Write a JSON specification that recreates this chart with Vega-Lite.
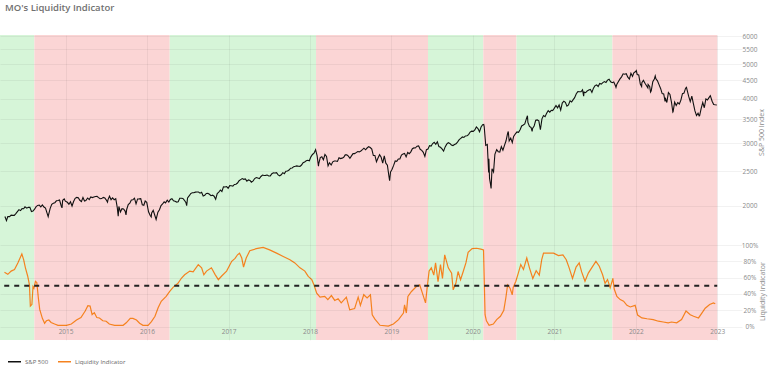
{
"$schema": "https://vega.github.io/schema/vega-lite/v6.json",
"width": 742, "height": 305,
"autosize": {"type": "none"},
"padding": {"left": 0, "top": 35, "right": 26, "bottom": 31},
"background": "white",
"config": {"view": {"stroke": null}, "font": "Open Sans"},
"title": {"text": "MO's Liquidity Indicator", "anchor": "start", "frame": "group", "dx": 5, "offset": 13, "fontSize": 9.5, "fontWeight": 600, "color": "#707070", "font": "Open Sans", "baseline": "alphabetic"},
"datasets": {
"bands": [
{"start":"2014-03-13","end":"2014-08-14","regime":"up"},
{"start":"2014-08-14","end":"2016-04-12","regime":"down"},
{"start":"2016-04-12","end":"2018-01-28","regime":"up"},
{"start":"2018-01-28","end":"2019-06-14","regime":"down"},
{"start":"2019-06-14","end":"2020-02-17","regime":"up"},
{"start":"2020-02-17","end":"2020-07-15","regime":"down"},
{"start":"2020-07-15","end":"2021-09-18","regime":"up"},
{"start":"2021-09-18","end":"2023-01-01","regime":"down"}
],
"ref": [{"start":"2014-04-01","end":"2023-01-01","level":0.5}],
"sp": [
{"date":"2014-04-04","value":1865},{"date":"2014-04-11","value":1815},{"date":"2014-04-17","value":1864},{"date":"2014-04-25","value":1863},{"date":"2014-05-02","value":1881},{"date":"2014-05-09","value":1878},{"date":"2014-05-16","value":1878},{"date":"2014-05-23","value":1900},{"date":"2014-05-30","value":1924},{"date":"2014-06-06","value":1949},{"date":"2014-06-13","value":1937},{"date":"2014-06-20","value":1963},{"date":"2014-06-27","value":1961},{"date":"2014-07-03","value":1985},{"date":"2014-07-11","value":1968},{"date":"2014-07-18","value":1978},{"date":"2014-07-25","value":1978},{"date":"2014-08-01","value":1925},{"date":"2014-08-08","value":1931},{"date":"2014-08-15","value":1955},{"date":"2014-08-22","value":1988},{"date":"2014-08-29","value":2003},{"date":"2014-09-05","value":2008},{"date":"2014-09-12","value":1985},{"date":"2014-09-19","value":2010},{"date":"2014-09-26","value":1982},{"date":"2014-10-03","value":1968},{"date":"2014-10-10","value":1906},{"date":"2014-10-15","value":1862},{"date":"2014-10-17","value":1887},{"date":"2014-10-24","value":1965},{"date":"2014-10-31","value":2018},{"date":"2014-11-07","value":2032},{"date":"2014-11-14","value":2039},{"date":"2014-11-21","value":2064},{"date":"2014-11-28","value":2068},{"date":"2014-12-05","value":2075},{"date":"2014-12-12","value":2002},{"date":"2014-12-16","value":1972},{"date":"2014-12-19","value":2071},{"date":"2014-12-26","value":2089},{"date":"2014-12-31","value":2059},
{"date":"2015-01-09","value":2044},{"date":"2015-01-16","value":2019},{"date":"2015-01-23","value":2051},{"date":"2015-01-30","value":1995},{"date":"2015-02-06","value":2055},{"date":"2015-02-13","value":2097},{"date":"2015-02-20","value":2110},{"date":"2015-02-27","value":2105},{"date":"2015-03-06","value":2071},{"date":"2015-03-13","value":2053},{"date":"2015-03-20","value":2108},{"date":"2015-03-27","value":2061},{"date":"2015-04-02","value":2067},{"date":"2015-04-10","value":2102},{"date":"2015-04-17","value":2081},{"date":"2015-04-24","value":2117},{"date":"2015-05-01","value":2108},{"date":"2015-05-08","value":2116},{"date":"2015-05-15","value":2123},{"date":"2015-05-22","value":2126},{"date":"2015-05-29","value":2107},{"date":"2015-06-05","value":2092},{"date":"2015-06-12","value":2094},{"date":"2015-06-19","value":2110},{"date":"2015-06-26","value":2102},{"date":"2015-07-02","value":2077},{"date":"2015-07-08","value":2046},{"date":"2015-07-10","value":2077},{"date":"2015-07-17","value":2127},{"date":"2015-07-24","value":2079},{"date":"2015-07-31","value":2104},{"date":"2015-08-07","value":2078},{"date":"2015-08-14","value":2092},{"date":"2015-08-21","value":1971},{"date":"2015-08-25","value":1868},{"date":"2015-08-28","value":1989},{"date":"2015-09-04","value":1921},{"date":"2015-09-11","value":1961},{"date":"2015-09-18","value":1958},{"date":"2015-09-25","value":1931},{"date":"2015-09-29","value":1884},{"date":"2015-10-02","value":1951},{"date":"2015-10-09","value":2015},{"date":"2015-10-16","value":2033},{"date":"2015-10-23","value":2075},{"date":"2015-10-30","value":2079},{"date":"2015-11-06","value":2099},{"date":"2015-11-13","value":2023},{"date":"2015-11-20","value":2089},{"date":"2015-11-27","value":2090},{"date":"2015-12-04","value":2092},{"date":"2015-12-11","value":2012},{"date":"2015-12-18","value":2006},{"date":"2015-12-24","value":2061},{"date":"2015-12-31","value":2044},
{"date":"2016-01-08","value":1922},{"date":"2016-01-15","value":1880},{"date":"2016-01-20","value":1859},{"date":"2016-01-22","value":1907},{"date":"2016-01-29","value":1940},{"date":"2016-02-05","value":1880},{"date":"2016-02-11","value":1829},{"date":"2016-02-19","value":1918},{"date":"2016-02-26","value":1948},{"date":"2016-03-04","value":2000},{"date":"2016-03-11","value":2022},{"date":"2016-03-18","value":2050},{"date":"2016-03-24","value":2036},{"date":"2016-04-01","value":2073},{"date":"2016-04-08","value":2048},{"date":"2016-04-15","value":2081},{"date":"2016-04-22","value":2092},{"date":"2016-04-29","value":2065},{"date":"2016-05-06","value":2057},{"date":"2016-05-13","value":2047},{"date":"2016-05-20","value":2052},{"date":"2016-05-27","value":2099},{"date":"2016-06-03","value":2099},{"date":"2016-06-10","value":2096},{"date":"2016-06-17","value":2071},{"date":"2016-06-24","value":2037},{"date":"2016-06-27","value":2001},{"date":"2016-07-01","value":2103},{"date":"2016-07-08","value":2130},{"date":"2016-07-15","value":2162},{"date":"2016-07-22","value":2175},{"date":"2016-07-29","value":2174},{"date":"2016-08-05","value":2183},{"date":"2016-08-12","value":2184},{"date":"2016-08-19","value":2184},{"date":"2016-08-26","value":2169},{"date":"2016-09-02","value":2180},{"date":"2016-09-09","value":2128},{"date":"2016-09-16","value":2139},{"date":"2016-09-23","value":2165},{"date":"2016-09-30","value":2168},{"date":"2016-10-07","value":2153},{"date":"2016-10-14","value":2133},{"date":"2016-10-21","value":2141},{"date":"2016-10-28","value":2126},{"date":"2016-11-04","value":2085},{"date":"2016-11-11","value":2164},{"date":"2016-11-18","value":2182},{"date":"2016-11-25","value":2213},{"date":"2016-12-02","value":2192},{"date":"2016-12-09","value":2260},{"date":"2016-12-16","value":2258},{"date":"2016-12-23","value":2264},{"date":"2016-12-30","value":2239},
{"date":"2017-01-06","value":2277},{"date":"2017-01-13","value":2275},{"date":"2017-01-20","value":2271},{"date":"2017-01-27","value":2295},{"date":"2017-02-03","value":2297},{"date":"2017-02-10","value":2316},{"date":"2017-02-17","value":2351},{"date":"2017-02-24","value":2367},{"date":"2017-03-03","value":2383},{"date":"2017-03-10","value":2372},{"date":"2017-03-17","value":2378},{"date":"2017-03-24","value":2344},{"date":"2017-03-31","value":2363},{"date":"2017-04-07","value":2355},{"date":"2017-04-13","value":2329},{"date":"2017-04-21","value":2349},{"date":"2017-04-28","value":2384},{"date":"2017-05-05","value":2399},{"date":"2017-05-12","value":2391},{"date":"2017-05-19","value":2382},{"date":"2017-05-26","value":2416},{"date":"2017-06-02","value":2439},{"date":"2017-06-09","value":2432},{"date":"2017-06-16","value":2433},{"date":"2017-06-23","value":2438},{"date":"2017-06-30","value":2423},{"date":"2017-07-07","value":2425},{"date":"2017-07-14","value":2459},{"date":"2017-07-21","value":2473},{"date":"2017-07-28","value":2472},{"date":"2017-08-04","value":2477},{"date":"2017-08-11","value":2441},{"date":"2017-08-18","value":2426},{"date":"2017-08-25","value":2443},{"date":"2017-09-01","value":2477},{"date":"2017-09-08","value":2461},{"date":"2017-09-15","value":2500},{"date":"2017-09-22","value":2502},{"date":"2017-09-29","value":2519},{"date":"2017-10-06","value":2549},{"date":"2017-10-13","value":2553},{"date":"2017-10-20","value":2575},{"date":"2017-10-27","value":2581},{"date":"2017-11-03","value":2588},{"date":"2017-11-10","value":2582},{"date":"2017-11-17","value":2579},{"date":"2017-11-24","value":2602},{"date":"2017-12-01","value":2642},{"date":"2017-12-08","value":2652},{"date":"2017-12-15","value":2675},{"date":"2017-12-22","value":2683},{"date":"2017-12-29","value":2674},
{"date":"2018-01-05","value":2743},{"date":"2018-01-12","value":2786},{"date":"2018-01-19","value":2810},{"date":"2018-01-26","value":2873},{"date":"2018-02-02","value":2762},{"date":"2018-02-08","value":2581},{"date":"2018-02-09","value":2620},{"date":"2018-02-16","value":2732},{"date":"2018-02-23","value":2747},{"date":"2018-03-02","value":2691},{"date":"2018-03-09","value":2786},{"date":"2018-03-16","value":2752},{"date":"2018-03-23","value":2588},{"date":"2018-03-29","value":2641},{"date":"2018-04-06","value":2604},{"date":"2018-04-13","value":2656},{"date":"2018-04-20","value":2670},{"date":"2018-04-27","value":2670},{"date":"2018-05-04","value":2663},{"date":"2018-05-11","value":2728},{"date":"2018-05-18","value":2713},{"date":"2018-05-25","value":2721},{"date":"2018-06-01","value":2735},{"date":"2018-06-08","value":2779},{"date":"2018-06-15","value":2780},{"date":"2018-06-22","value":2755},{"date":"2018-06-29","value":2718},{"date":"2018-07-06","value":2760},{"date":"2018-07-13","value":2801},{"date":"2018-07-20","value":2802},{"date":"2018-07-27","value":2819},{"date":"2018-08-03","value":2840},{"date":"2018-08-10","value":2833},{"date":"2018-08-17","value":2850},{"date":"2018-08-24","value":2875},{"date":"2018-08-31","value":2902},{"date":"2018-09-07","value":2872},{"date":"2018-09-14","value":2905},{"date":"2018-09-21","value":2930},{"date":"2018-09-28","value":2914},{"date":"2018-10-05","value":2886},{"date":"2018-10-12","value":2767},{"date":"2018-10-19","value":2768},{"date":"2018-10-26","value":2659},{"date":"2018-11-02","value":2723},{"date":"2018-11-09","value":2781},{"date":"2018-11-16","value":2736},{"date":"2018-11-23","value":2633},{"date":"2018-11-30","value":2760},{"date":"2018-12-07","value":2633},{"date":"2018-12-14","value":2600},{"date":"2018-12-21","value":2417},{"date":"2018-12-24","value":2351},{"date":"2018-12-28","value":2486},
{"date":"2019-01-04","value":2532},{"date":"2019-01-11","value":2596},{"date":"2019-01-18","value":2671},{"date":"2019-01-25","value":2665},{"date":"2019-02-01","value":2707},{"date":"2019-02-08","value":2708},{"date":"2019-02-15","value":2776},{"date":"2019-02-22","value":2793},{"date":"2019-03-01","value":2804},{"date":"2019-03-08","value":2743},{"date":"2019-03-15","value":2822},{"date":"2019-03-22","value":2800},{"date":"2019-03-29","value":2834},{"date":"2019-04-05","value":2893},{"date":"2019-04-12","value":2907},{"date":"2019-04-18","value":2905},{"date":"2019-04-26","value":2940},{"date":"2019-05-03","value":2946},{"date":"2019-05-10","value":2881},{"date":"2019-05-17","value":2860},{"date":"2019-05-24","value":2826},{"date":"2019-05-31","value":2752},{"date":"2019-06-07","value":2873},{"date":"2019-06-14","value":2887},{"date":"2019-06-21","value":2950},{"date":"2019-06-28","value":2942},{"date":"2019-07-05","value":2990},{"date":"2019-07-12","value":3014},{"date":"2019-07-19","value":2977},{"date":"2019-07-26","value":3026},{"date":"2019-08-02","value":2932},{"date":"2019-08-09","value":2919},{"date":"2019-08-16","value":2889},{"date":"2019-08-23","value":2847},{"date":"2019-08-30","value":2926},{"date":"2019-09-06","value":2979},{"date":"2019-09-13","value":3007},{"date":"2019-09-20","value":2992},{"date":"2019-09-27","value":2962},{"date":"2019-10-04","value":2952},{"date":"2019-10-11","value":2970},{"date":"2019-10-18","value":2986},{"date":"2019-10-25","value":3023},{"date":"2019-11-01","value":3067},{"date":"2019-11-08","value":3093},{"date":"2019-11-15","value":3120},{"date":"2019-11-22","value":3110},{"date":"2019-11-29","value":3141},{"date":"2019-12-06","value":3146},{"date":"2019-12-13","value":3169},{"date":"2019-12-20","value":3221},{"date":"2019-12-27","value":3240},
{"date":"2020-01-03","value":3235},{"date":"2020-01-10","value":3265},{"date":"2020-01-17","value":3330},{"date":"2020-01-24","value":3295},{"date":"2020-01-31","value":3226},{"date":"2020-02-07","value":3328},{"date":"2020-02-14","value":3380},{"date":"2020-02-19","value":3386},{"date":"2020-02-21","value":3338},{"date":"2020-02-28","value":2954},{"date":"2020-03-06","value":2972},{"date":"2020-03-12","value":2481},{"date":"2020-03-13","value":2711},{"date":"2020-03-16","value":2386},{"date":"2020-03-20","value":2305},{"date":"2020-03-23","value":2237},{"date":"2020-03-27","value":2541},{"date":"2020-04-03","value":2489},{"date":"2020-04-09","value":2790},{"date":"2020-04-17","value":2875},{"date":"2020-04-24","value":2837},{"date":"2020-05-01","value":2831},{"date":"2020-05-08","value":2930},{"date":"2020-05-15","value":2864},{"date":"2020-05-22","value":2955},{"date":"2020-05-29","value":3044},{"date":"2020-06-05","value":3194},{"date":"2020-06-08","value":3232},{"date":"2020-06-12","value":3041},{"date":"2020-06-19","value":3098},{"date":"2020-06-26","value":3009},{"date":"2020-07-02","value":3130},{"date":"2020-07-10","value":3185},{"date":"2020-07-17","value":3225},{"date":"2020-07-24","value":3216},{"date":"2020-07-31","value":3271},{"date":"2020-08-07","value":3351},{"date":"2020-08-14","value":3373},{"date":"2020-08-21","value":3397},{"date":"2020-08-28","value":3508},{"date":"2020-09-02","value":3580},{"date":"2020-09-04","value":3427},{"date":"2020-09-11","value":3341},{"date":"2020-09-18","value":3319},{"date":"2020-09-23","value":3237},{"date":"2020-09-25","value":3298},{"date":"2020-10-02","value":3348},{"date":"2020-10-09","value":3477},{"date":"2020-10-16","value":3484},{"date":"2020-10-23","value":3465},{"date":"2020-10-30","value":3270},{"date":"2020-11-06","value":3510},{"date":"2020-11-13","value":3585},{"date":"2020-11-20","value":3558},{"date":"2020-11-27","value":3638},{"date":"2020-12-04","value":3699},{"date":"2020-12-11","value":3663},{"date":"2020-12-18","value":3709},{"date":"2020-12-24","value":3703},{"date":"2020-12-31","value":3756},
{"date":"2021-01-08","value":3825},{"date":"2021-01-15","value":3768},{"date":"2021-01-22","value":3841},{"date":"2021-01-29","value":3714},{"date":"2021-02-05","value":3887},{"date":"2021-02-12","value":3934},{"date":"2021-02-19","value":3907},{"date":"2021-02-26","value":3811},{"date":"2021-03-05","value":3842},{"date":"2021-03-12","value":3943},{"date":"2021-03-19","value":3913},{"date":"2021-03-26","value":3975},{"date":"2021-04-01","value":4020},{"date":"2021-04-09","value":4129},{"date":"2021-04-16","value":4185},{"date":"2021-04-23","value":4180},{"date":"2021-04-30","value":4181},{"date":"2021-05-07","value":4233},{"date":"2021-05-12","value":4063},{"date":"2021-05-14","value":4174},{"date":"2021-05-21","value":4156},{"date":"2021-05-28","value":4204},{"date":"2021-06-04","value":4230},{"date":"2021-06-11","value":4247},{"date":"2021-06-18","value":4166},{"date":"2021-06-25","value":4281},{"date":"2021-07-02","value":4352},{"date":"2021-07-09","value":4370},{"date":"2021-07-16","value":4327},{"date":"2021-07-23","value":4412},{"date":"2021-07-30","value":4395},{"date":"2021-08-06","value":4437},{"date":"2021-08-13","value":4468},{"date":"2021-08-20","value":4442},{"date":"2021-08-27","value":4509},{"date":"2021-09-03","value":4535},{"date":"2021-09-10","value":4459},{"date":"2021-09-17","value":4433},{"date":"2021-09-24","value":4455},{"date":"2021-10-01","value":4357},{"date":"2021-10-04","value":4300},{"date":"2021-10-08","value":4391},{"date":"2021-10-15","value":4471},{"date":"2021-10-22","value":4545},{"date":"2021-10-29","value":4605},{"date":"2021-11-05","value":4697},{"date":"2021-11-12","value":4683},{"date":"2021-11-19","value":4698},{"date":"2021-11-26","value":4595},{"date":"2021-12-03","value":4538},{"date":"2021-12-10","value":4712},{"date":"2021-12-17","value":4620},{"date":"2021-12-23","value":4726},{"date":"2021-12-31","value":4766},
{"date":"2022-01-03","value":4797},{"date":"2022-01-07","value":4677},{"date":"2022-01-14","value":4663},{"date":"2022-01-21","value":4398},{"date":"2022-01-27","value":4326},{"date":"2022-01-28","value":4432},{"date":"2022-02-04","value":4501},{"date":"2022-02-11","value":4419},{"date":"2022-02-18","value":4349},{"date":"2022-02-24","value":4288},{"date":"2022-02-25","value":4385},{"date":"2022-03-04","value":4329},{"date":"2022-03-08","value":4171},{"date":"2022-03-11","value":4204},{"date":"2022-03-18","value":4463},{"date":"2022-03-25","value":4543},{"date":"2022-03-29","value":4632},{"date":"2022-04-01","value":4546},{"date":"2022-04-08","value":4488},{"date":"2022-04-14","value":4393},{"date":"2022-04-22","value":4272},{"date":"2022-04-29","value":4132},{"date":"2022-05-06","value":4123},{"date":"2022-05-12","value":3930},{"date":"2022-05-13","value":4023},{"date":"2022-05-20","value":3901},{"date":"2022-05-27","value":4158},{"date":"2022-06-03","value":4109},{"date":"2022-06-10","value":3901},{"date":"2022-06-16","value":3667},{"date":"2022-06-17","value":3675},{"date":"2022-06-24","value":3912},{"date":"2022-07-01","value":3825},{"date":"2022-07-08","value":3899},{"date":"2022-07-15","value":3863},{"date":"2022-07-22","value":3962},{"date":"2022-07-29","value":4130},{"date":"2022-08-05","value":4145},{"date":"2022-08-12","value":4280},{"date":"2022-08-16","value":4305},{"date":"2022-08-19","value":4228},{"date":"2022-08-26","value":4058},{"date":"2022-09-02","value":3924},{"date":"2022-09-09","value":4067},{"date":"2022-09-16","value":3873},{"date":"2022-09-23","value":3693},{"date":"2022-09-30","value":3586},{"date":"2022-10-07","value":3640},{"date":"2022-10-12","value":3577},{"date":"2022-10-14","value":3583},{"date":"2022-10-21","value":3753},{"date":"2022-10-28","value":3901},{"date":"2022-11-04","value":3771},{"date":"2022-11-11","value":3993},{"date":"2022-11-18","value":3965},{"date":"2022-11-25","value":4026},{"date":"2022-12-01","value":4077},{"date":"2022-12-09","value":3934},{"date":"2022-12-16","value":3852},{"date":"2022-12-23","value":3845},{"date":"2022-12-30","value":3840}
],
"liq": [
{"date":"2014-04-02","value":0.665},{"date":"2014-04-17","value":0.64},{"date":"2014-05-02","value":0.68},{"date":"2014-05-17","value":0.70},{"date":"2014-06-01","value":0.78},{"date":"2014-06-19","value":0.89},{"date":"2014-06-27","value":0.82},{"date":"2014-07-05","value":0.72},{"date":"2014-07-15","value":0.62},{"date":"2014-07-23","value":0.51},{"date":"2014-07-27","value":0.25},{"date":"2014-08-03","value":0.27},{"date":"2014-08-08","value":0.49},{"date":"2014-08-12","value":0.47},{"date":"2014-08-19","value":0.555},{"date":"2014-08-25","value":0.54},{"date":"2014-09-01","value":0.35},{"date":"2014-09-07","value":0.21},{"date":"2014-09-19","value":0.10},{"date":"2014-09-29","value":0.04},{"date":"2014-10-07","value":0.07},{"date":"2014-10-18","value":0.08},{"date":"2014-10-28","value":0.05},{"date":"2014-11-13","value":0.03},{"date":"2014-11-28","value":0.015},
{"date":"2015-01-05","value":0.015},{"date":"2015-01-27","value":0.03},{"date":"2015-02-19","value":0.08},{"date":"2015-03-11","value":0.11},{"date":"2015-03-30","value":0.19},{"date":"2015-04-11","value":0.255},{"date":"2015-04-21","value":0.25},{"date":"2015-04-30","value":0.145},{"date":"2015-05-10","value":0.17},{"date":"2015-05-21","value":0.11},{"date":"2015-06-02","value":0.105},{"date":"2015-06-17","value":0.07},{"date":"2015-07-02","value":0.065},{"date":"2015-07-16","value":0.03},{"date":"2015-08-09","value":0.015},{"date":"2015-09-16","value":0.015},{"date":"2015-09-30","value":0.045},{"date":"2015-10-18","value":0.10},{"date":"2015-10-30","value":0.10},{"date":"2015-11-15","value":0.08},{"date":"2015-11-29","value":0.04},{"date":"2015-12-14","value":0.015},
{"date":"2016-01-06","value":0.015},{"date":"2016-01-21","value":0.06},{"date":"2016-02-06","value":0.125},{"date":"2016-02-20","value":0.23},{"date":"2016-03-05","value":0.31},{"date":"2016-03-27","value":0.37},{"date":"2016-04-12","value":0.43},{"date":"2016-04-27","value":0.48},{"date":"2016-05-19","value":0.53},{"date":"2016-06-04","value":0.595},{"date":"2016-06-18","value":0.635},{"date":"2016-07-11","value":0.68},{"date":"2016-07-26","value":0.67},{"date":"2016-08-18","value":0.76},{"date":"2016-09-02","value":0.72},{"date":"2016-09-12","value":0.635},{"date":"2016-09-24","value":0.68},{"date":"2016-10-16","value":0.72},{"date":"2016-11-01","value":0.64},{"date":"2016-11-16","value":0.575},{"date":"2016-12-01","value":0.62},{"date":"2016-12-23","value":0.68},
{"date":"2017-01-15","value":0.80},{"date":"2017-01-30","value":0.835},{"date":"2017-02-10","value":0.88},{"date":"2017-02-19","value":0.90},{"date":"2017-03-01","value":0.84},{"date":"2017-03-09","value":0.73},{"date":"2017-03-21","value":0.84},{"date":"2017-04-06","value":0.93},{"date":"2017-05-05","value":0.955},{"date":"2017-06-05","value":0.97},{"date":"2017-07-04","value":0.94},{"date":"2017-08-04","value":0.90},{"date":"2017-09-03","value":0.86},{"date":"2017-10-03","value":0.82},{"date":"2017-10-25","value":0.78},{"date":"2017-11-17","value":0.72},{"date":"2017-12-09","value":0.68},{"date":"2017-12-24","value":0.615},
{"date":"2018-01-09","value":0.575},{"date":"2018-01-19","value":0.51},{"date":"2018-01-31","value":0.41},{"date":"2018-02-15","value":0.36},{"date":"2018-03-08","value":0.37},{"date":"2018-03-22","value":0.33},{"date":"2018-04-07","value":0.38},{"date":"2018-04-22","value":0.32},{"date":"2018-05-07","value":0.34},{"date":"2018-05-21","value":0.29},{"date":"2018-06-13","value":0.36},{"date":"2018-06-28","value":0.205},{"date":"2018-07-20","value":0.22},{"date":"2018-08-05","value":0.36},{"date":"2018-08-15","value":0.26},{"date":"2018-08-30","value":0.39},{"date":"2018-09-14","value":0.35},{"date":"2018-09-29","value":0.39},{"date":"2018-10-07","value":0.145},{"date":"2018-10-19","value":0.09},{"date":"2018-11-11","value":0.015},{"date":"2018-12-18","value":0.005},
{"date":"2019-01-10","value":0.03},{"date":"2019-02-02","value":0.085},{"date":"2019-02-24","value":0.165},{"date":"2019-03-01","value":0.265},{"date":"2019-03-09","value":0.165},{"date":"2019-03-16","value":0.37},{"date":"2019-04-01","value":0.43},{"date":"2019-04-23","value":0.49},{"date":"2019-05-08","value":0.51},{"date":"2019-05-20","value":0.41},{"date":"2019-06-03","value":0.29},{"date":"2019-06-10","value":0.47},{"date":"2019-06-19","value":0.68},{"date":"2019-06-29","value":0.72},{"date":"2019-07-10","value":0.63},{"date":"2019-07-18","value":0.78},{"date":"2019-07-29","value":0.55},{"date":"2019-08-09","value":0.76},{"date":"2019-08-18","value":0.59},{"date":"2019-08-28","value":0.88},{"date":"2019-09-13","value":0.72},{"date":"2019-09-28","value":0.655},{"date":"2019-10-05","value":0.45},{"date":"2019-10-17","value":0.53},{"date":"2019-10-27","value":0.675},{"date":"2019-11-07","value":0.575},{"date":"2019-11-19","value":0.675},{"date":"2019-12-01","value":0.78},{"date":"2019-12-11","value":0.91},{"date":"2019-12-29","value":0.955},
{"date":"2020-01-18","value":0.96},{"date":"2020-02-06","value":0.95},{"date":"2020-02-18","value":0.94},{"date":"2020-02-25","value":0.145},{"date":"2020-03-02","value":0.07},{"date":"2020-03-14","value":0.015},{"date":"2020-04-02","value":0.03},{"date":"2020-04-17","value":0.085},{"date":"2020-05-04","value":0.125},{"date":"2020-05-19","value":0.20},{"date":"2020-05-28","value":0.35},{"date":"2020-06-05","value":0.51},{"date":"2020-06-16","value":0.47},{"date":"2020-06-26","value":0.39},{"date":"2020-06-30","value":0.48},{"date":"2020-07-12","value":0.555},{"date":"2020-07-23","value":0.655},{"date":"2020-08-03","value":0.76},{"date":"2020-08-15","value":0.70},{"date":"2020-08-30","value":0.84},{"date":"2020-09-11","value":0.72},{"date":"2020-09-26","value":0.59},{"date":"2020-10-11","value":0.685},{"date":"2020-10-25","value":0.63},{"date":"2020-11-05","value":0.82},{"date":"2020-11-13","value":0.90},{"date":"2020-12-05","value":0.90},{"date":"2020-12-28","value":0.90},
{"date":"2021-01-19","value":0.87},{"date":"2021-02-08","value":0.88},{"date":"2021-02-23","value":0.82},{"date":"2021-03-08","value":0.72},{"date":"2021-03-23","value":0.59},{"date":"2021-04-08","value":0.73},{"date":"2021-04-22","value":0.78},{"date":"2021-05-03","value":0.67},{"date":"2021-05-18","value":0.555},{"date":"2021-06-02","value":0.655},{"date":"2021-06-17","value":0.72},{"date":"2021-07-06","value":0.80},{"date":"2021-07-21","value":0.74},{"date":"2021-08-05","value":0.635},{"date":"2021-08-16","value":0.53},{"date":"2021-08-27","value":0.575},{"date":"2021-09-08","value":0.475},{"date":"2021-09-20","value":0.59},{"date":"2021-09-26","value":0.46},{"date":"2021-10-08","value":0.37},{"date":"2021-10-23","value":0.33},{"date":"2021-11-07","value":0.31},{"date":"2021-11-22","value":0.26},{"date":"2021-12-07","value":0.24},{"date":"2021-12-29","value":0.26},
{"date":"2022-01-09","value":0.14},{"date":"2022-01-28","value":0.105},{"date":"2022-02-20","value":0.095},{"date":"2022-03-20","value":0.085},{"date":"2022-04-12","value":0.065},{"date":"2022-05-04","value":0.055},{"date":"2022-05-26","value":0.045},{"date":"2022-06-10","value":0.055},{"date":"2022-07-03","value":0.045},{"date":"2022-07-25","value":0.085},{"date":"2022-08-14","value":0.19},{"date":"2022-09-02","value":0.145},{"date":"2022-09-17","value":0.125},{"date":"2022-10-09","value":0.105},{"date":"2022-10-24","value":0.165},{"date":"2022-11-08","value":0.225},{"date":"2022-11-28","value":0.27},{"date":"2022-12-15","value":0.29},{"date":"2022-12-23","value":0.28}
]
},
"layer": [
{"data": {"name": "bands"},
 "mark": {"type": "rect"},
 "encoding": {
  "x": {"field": "start", "type": "temporal",
        "scale": {"type": "utc", "domain": [{"year": 2014, "month": 3, "date": 13, "utc": true}, {"year": 2023, "month": 4, "date": 22, "utc": true}]},
        "axis": {"title": null, "format": "%Y", "tickCount": {"interval": "year", "step": 1}, "grid": true, "gridColor": "#000", "gridOpacity": 0.05, "ticks": false, "domain": false, "labelPadding": -9, "labelBaseline": "middle", "labelFlush": false, "labelFontSize": 6.5, "labelColor": "#8a8a8a", "zindex": 1}},
  "x2": {"field": "end"},
  "fill": {"field": "regime", "type": "nominal", "scale": {"domain": ["up", "down"], "range": ["#d6f5d8", "#fbd5d5"]}, "legend": null}
 }},
{"data": {"name": "sp"},
 "mark": {"type": "line", "strokeWidth": 1.1},
 "encoding": {
  "x": {"field": "date", "type": "temporal"},
  "y": {"field": "value", "type": "quantitative",
        "scale": {"type": "log", "domain": [838, 6039], "nice": false, "zero": false},
        "axis": {"orient": "right", "values": [2000, 2500, 3000, 3500, 4000, 4500, 5000, 5500, 6000], "format": "d", "grid": true, "gridColor": "#000", "gridOpacity": 0.05, "ticks": false, "domain": false, "labelAlign": "center", "labelPadding": 7.5, "labelFontSize": 6.5, "labelColor": "#8a8a8a", "title": "S&P 500 Index", "titleAngle": 270, "titleX": 19, "titleY": 97, "titleAlign": "center", "titleBaseline": "middle", "titleFontSize": 7, "titleFontWeight": "normal", "titleColor": "#8a8a8a", "zindex": 1}},
  "color": {"datum": "S&P 500", "type": "nominal",
            "scale": {"domain": ["S&P 500", "Liquidity Indicator"], "range": ["#111111", "#f5821f"]},
            "legend": {"orient": "none", "legendX": 7, "legendY": 319, "direction": "horizontal", "title": null, "symbolType": "stroke", "symbolSize": 169, "symbolStrokeWidth": 1.5, "labelFontSize": 6, "labelColor": "#666", "columnPadding": 6, "labelOffset": 3}}
 }},
{"data": {"name": "liq"},
 "mark": {"type": "line", "strokeWidth": 1.2},
 "encoding": {
  "x": {"field": "date", "type": "temporal"},
  "y": {"field": "value", "type": "quantitative",
        "scale": {"domain": [-0.1656, 3.577], "nice": false, "zero": false},
        "axis": {"orient": "right", "values": [0, 0.2, 0.4, 0.6, 0.8, 1], "format": ".0%", "grid": true, "gridColor": "#000", "gridOpacity": 0.05, "ticks": false, "domain": false, "labelAlign": "center", "labelPadding": 7.5, "labelFontSize": 6.5, "labelColor": "#8a8a8a", "title": "Liquidity Indicator", "titleAngle": 270, "titleX": 20, "titleY": 256, "titleAlign": "center", "titleBaseline": "middle", "titleFontSize": 7, "titleFontWeight": "normal", "titleColor": "#8a8a8a", "zindex": 1}},
  "color": {"datum": "Liquidity Indicator", "type": "nominal"}
 }},
{"data": {"name": "ref"},
 "mark": {"type": "rule", "strokeDash": [5, 5], "strokeWidth": 1.8, "color": "#222"},
 "encoding": {
  "x": {"field": "start", "type": "temporal"},
  "x2": {"field": "end"},
  "y": {"field": "level", "type": "quantitative", "scale": {"domain": [-0.1656, 3.577], "nice": false, "zero": false}, "axis": null}
 }}
],
"resolve": {"scale": {"y": "independent"}, "axis": {"y": "independent"}}
}
